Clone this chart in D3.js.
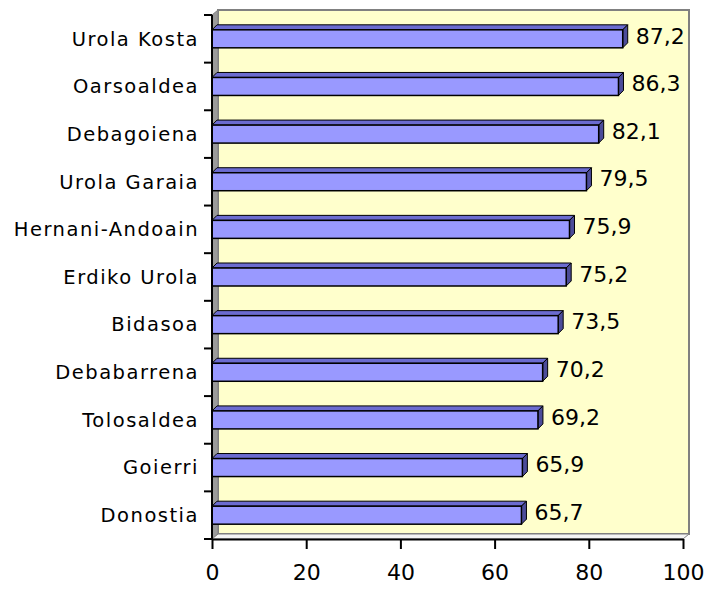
<!DOCTYPE html>
<html>
<head>
<meta charset="utf-8">
<script src="https://cdn.jsdelivr.net/npm/d3@7"></script>
<style>
  body { margin: 0; background: #fff; }
  text { font-family: "Comic Sans MS", "DejaVu Sans", sans-serif; fill: #000; }
</style>
</head>
<body>
<script>
// values, top bar first
var categories = ["Urola Kosta", "Oarsoaldea", "Debagoiena", "Urola Garaia", "Hernani-Andoain",
                  "Erdiko Urola", "Bidasoa", "Debabarrena", "Tolosaldea", "Goierri", "Donostia"];
var values = [87.2, 86.3, 82.1, 79.5, 75.9, 75.2, 73.5, 70.2, 69.2, 65.9, 65.7];
var xTicks = [0, 20, 40, 60, 80, 100];

var svgWidth = 704, svgHeight = 590;
var plotLeft = 212, plotRight = 683, plotTop = 15, plotBottom = 539;
var wallDepth = 6, barDepth = 5, barHeight = 18;

var svg = d3.select("body")
    .append("svg")
    .attr("width", svgWidth)
    .attr("height", svgHeight);

var x = d3.scaleLinear()
    .domain([0, 100])
    .range([plotLeft, plotRight]);

var y = d3.scaleBand()
    .domain(categories)
    .range([plotTop, plotBottom]);

// back wall
svg.append("rect")
  .attr("x", x(0) + wallDepth)
  .attr("y", plotTop - 5)
  .attr("width", x(100) - x(0))
  .attr("height", plotBottom - plotTop)
  .attr("fill", "#FFFFCC")
  .attr("stroke", "#808080")
  .attr("stroke-width", 2);

// side wall
svg.append("polygon")
  .attr("points", [[plotLeft, plotTop], [plotLeft + wallDepth, plotTop - 5], [plotLeft + wallDepth, plotBottom - 5], [plotLeft, plotBottom]].join(" "))
  .attr("fill", "#9a9a9a")
  .attr("stroke", "#808080");

// floor
svg.append("polygon")
  .attr("points", [[plotLeft, plotBottom], [plotLeft + wallDepth, plotBottom - 5], [plotRight + wallDepth, plotBottom - 5], [plotRight, plotBottom]].join(" "))
  .attr("fill", "#f4f4f4")
  .attr("stroke", "#808080");

var bars = svg.selectAll(".bar")
    .data(values)
    .enter()
    .append("g")
    .attr("class", "bar");

function barTop(d, i) {
  return y(categories[i]) + y.bandwidth() / 2 - barHeight / 2;
}

// top face
bars.append("polygon")
  .attr("points", function(d, i){
    var t = barTop(d, i);
    return [[x(0), t], [x(0) + barDepth, t - barDepth], [x(d) + barDepth, t - barDepth], [x(d), t]].join(" ");
  })
  .attr("fill", "#6B6BD0")
  .attr("stroke", "#000")
  .attr("stroke-width", 1);

// side face
bars.append("polygon")
  .attr("points", function(d, i){
    var t = barTop(d, i);
    return [[x(d), t], [x(d) + barDepth, t - barDepth], [x(d) + barDepth, t + barHeight - barDepth], [x(d), t + barHeight]].join(" ");
  })
  .attr("fill", "#4C4C99")
  .attr("stroke", "#000")
  .attr("stroke-width", 1);

// front face
bars.append("rect")
  .attr("x", x(0))
  .attr("y", function(d, i){ return barTop(d, i); })
  .attr("width", function(d){ return x(d) - x(0); })
  .attr("height", barHeight)
  .attr("fill", "#9999FF")
  .attr("stroke", "#000")
  .attr("stroke-width", 1.5);

// value labels
bars.append("text")
  .attr("x", function(d){ return x(d) + 13; })
  .attr("y", function(d, i){ return y(categories[i]) + y.bandwidth() / 2 - 3; })
  .attr("dy", "0.35em")
  .style("font-size", "22px")
  .text(function(d){ return String(d).replace(".", ","); });

// category axis
svg.append("line")
  .attr("x1", plotLeft).attr("x2", plotLeft)
  .attr("y1", plotTop).attr("y2", plotBottom)
  .attr("stroke", "#000")
  .attr("stroke-width", 2);

svg.selectAll(".ytick")
  .data(categories.concat(["end"]))
  .enter()
  .append("line")
  .attr("class", "ytick")
  .attr("x1", plotLeft - 8).attr("x2", plotLeft)
  .attr("y1", function(d){ return d == "end" ? y.range()[1] : y(d); })
  .attr("y2", function(d){ return d == "end" ? y.range()[1] : y(d); })
  .attr("stroke", "#000")
  .attr("stroke-width", 2);

svg.selectAll(".ylabel")
  .data(categories)
  .enter()
  .append("text")
  .attr("class", "ylabel")
  .attr("x", plotLeft - 13)
  .attr("y", function(d){ return y(d) + y.bandwidth() / 2; })
  .attr("dy", "0.35em")
  .attr("text-anchor", "end")
  .style("font-size", "19.5px")
  .style("letter-spacing", "1.5px")
  .text(function(d){ return d; });

// value axis
var xAxis = svg.append("g")
    .attr("transform", "translate(0," + plotBottom + ")")
    .call(d3.axisBottom(x).tickValues(xTicks).tickSize(10).tickSizeOuter(0).tickPadding(15));

xAxis.select(".domain").attr("stroke", "#000").attr("stroke-width", 2);
xAxis.selectAll(".tick line").attr("stroke", "#000").attr("stroke-width", 2);
xAxis.selectAll(".tick text")
  .style("font-size", "22px")
  .style("font-family", "\"Comic Sans MS\", \"DejaVu Sans\", sans-serif")
  .attr("fill", "#000");
</script>
</body>
</html>
